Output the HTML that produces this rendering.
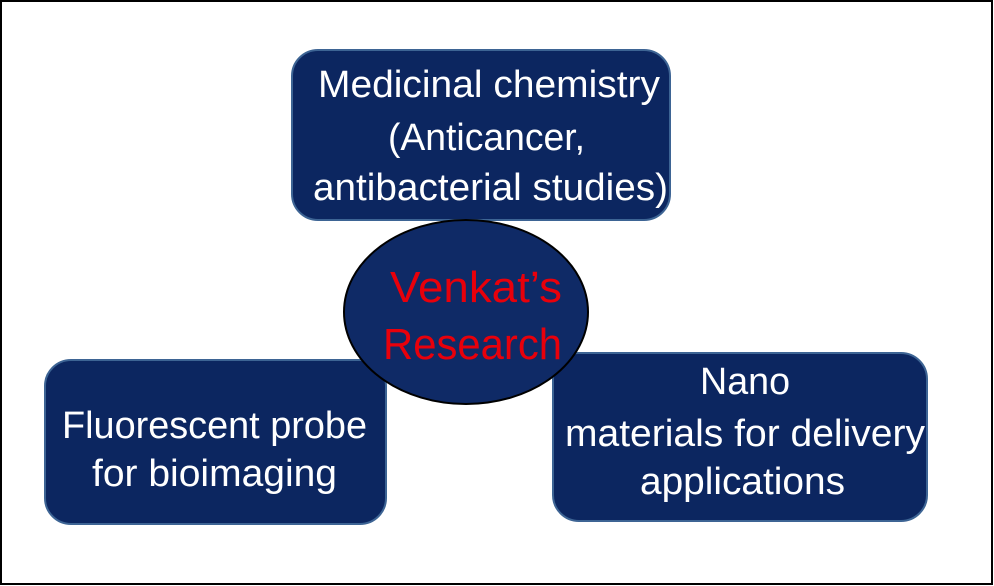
<!DOCTYPE html>
<html><head><meta charset="utf-8"><style>
html,body{margin:0;padding:0;background:#fff;}
svg{display:block;}
text{font-family:"Liberation Sans",sans-serif;font-size:38px;}
</style></head><body>
<svg width="994" height="586" viewBox="0 0 994 586" xmlns="http://www.w3.org/2000/svg">
<rect x="0" y="0" width="994" height="586" fill="#fff"/>
<rect x="1" y="1" width="991" height="583" fill="none" stroke="#000" stroke-width="2"/>
<g fill="#0c2660" stroke="#3d6494" stroke-width="2">
<rect x="292" y="50" width="378" height="170" rx="26"/>
<rect x="45" y="360" width="341" height="164" rx="26"/>
<rect x="553" y="353" width="374" height="168" rx="26"/>
</g>
<ellipse cx="466" cy="312" rx="122" ry="92" fill="#0f2a66" stroke="#000" stroke-width="2"/>
<g fill="#fff">
<text x="318" y="97" textLength="342" lengthAdjust="spacingAndGlyphs">Medicinal chemistry</text>
<text x="388" y="150" textLength="197" lengthAdjust="spacingAndGlyphs">(Anticancer,</text>
<text x="313" y="200" textLength="355" lengthAdjust="spacingAndGlyphs">antibacterial studies)</text>
<text x="62" y="438" textLength="305" lengthAdjust="spacingAndGlyphs">Fluorescent probe</text>
<text x="92" y="486" textLength="245" lengthAdjust="spacingAndGlyphs">for bioimaging</text>
<text x="700" y="394" textLength="90" lengthAdjust="spacingAndGlyphs">Nano</text>
<text x="565" y="446" textLength="360" lengthAdjust="spacingAndGlyphs">materials for delivery</text>
<text x="640" y="494" textLength="205" lengthAdjust="spacingAndGlyphs">applications</text>
</g>
<g fill="#e8000b">
<text x="390" y="302" textLength="172" lengthAdjust="spacingAndGlyphs" style="font-size:44px">Venkat’s</text>
<text x="383" y="359" textLength="179" lengthAdjust="spacingAndGlyphs" style="font-size:44px">Research</text>
</g>
</svg>
</body></html>
